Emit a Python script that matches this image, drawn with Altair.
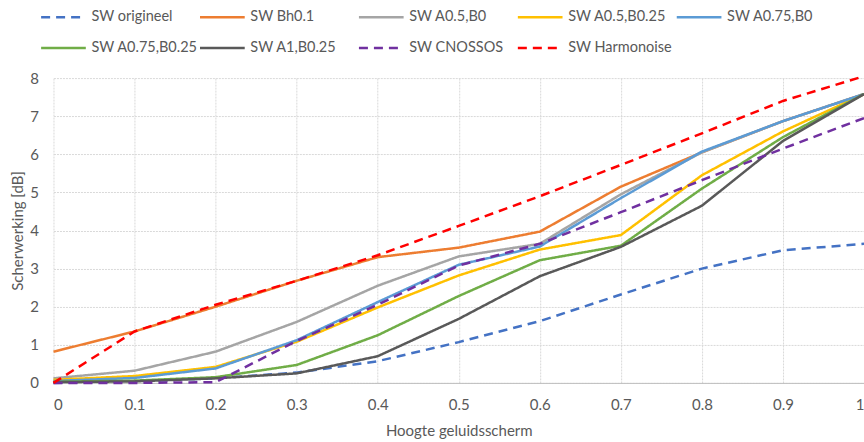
import altair as alt
import pandas as pd

# Schermhoogte (x-as)
hoogte = [0.0, 0.1, 0.2, 0.3, 0.4, 0.5, 0.6, 0.7, 0.8, 0.9, 1.0]

# Scherwerking [dB] per variant
sw_origineel = [0.0, 0.04, 0.12, 0.27, 0.57, 1.07, 1.62, 2.32, 3.00, 3.48, 3.65]
sw_bh01 = [0.82, 1.35, 2.00, 2.68, 3.30, 3.55, 3.97, 5.15, 6.05, 6.87, 7.58]
sw_a05_b0 = [0.12, 0.32, 0.82, 1.60, 2.55, 3.32, 3.65, 4.95, 6.05, 6.87, 7.58]
sw_a05_b025 = [0.08, 0.18, 0.42, 1.08, 1.98, 2.82, 3.50, 3.88, 5.45, 6.60, 7.58]
sw_a075_b0 = [0.05, 0.13, 0.38, 1.12, 2.12, 3.10, 3.58, 4.85, 6.07, 6.87, 7.58]
sw_a075_b025 = [0.03, 0.06, 0.15, 0.47, 1.25, 2.28, 3.22, 3.60, 5.10, 6.45, 7.58]
sw_a1_b025 = [0.02, 0.04, 0.12, 0.25, 0.70, 1.68, 2.80, 3.57, 4.65, 6.35, 7.58]
sw_cnossos = [0.0, 0.0, 0.02, 1.10, 2.05, 3.08, 3.65, 4.48, 5.32, 6.15, 6.95]
sw_harmonoise = [0.0, 1.35, 2.05, 2.68, 3.35, 4.12, 4.90, 5.72, 6.55, 7.40, 8.05]

namen = [
    "SW origineel", "SW Bh0.1", "SW A0.5,B0", "SW A0.5,B0.25", "SW A0.75,B0",
    "SW A0.75,B0.25", "SW A1,B0.25", "SW CNOSSOS", "SW Harmonoise",
]
reeksen = [
    sw_origineel, sw_bh01, sw_a05_b0, sw_a05_b025, sw_a075_b0,
    sw_a075_b025, sw_a1_b025, sw_cnossos, sw_harmonoise,
]
kleuren = [
    "#4472C4", "#ED7D31", "#A5A5A5", "#FFC000", "#5B9BD5",
    "#70AD47", "#595959", "#7030A0", "#FF0000",
]
streep = [[9, 6], [1, 0], [1, 0], [1, 0], [1, 0], [1, 0], [1, 0], [9, 6], [9, 6]]

rows = []
for naam, waarden in zip(namen, reeksen):
    for x, y in zip(hoogte, waarden):
        rows.append({"hoogte": x, "sw": y, "reeks": naam})
df = pd.DataFrame(rows)

FONT = "Lato"
GRIJS = "#595959"

legend_cfg = dict(
    orient="none",
    legendX=-14,
    legendY=-85,
    direction="horizontal",
    columns=5,
    gridAlign="all",
    columnPadding=-9,
    rowPadding=-8,
    symbolType="stroke",
    symbolSize=2000,
    symbolStrokeWidth=2.5,
    labelFont=FONT,
    labelFontSize=14.5,
    labelColor=GRIJS,
    labelOffset=4,
    labelLimit=200,
    padding=0,
    title=None,
)

chart = (
    alt.Chart(df)
    .mark_line(strokeWidth=2.5, clip=False)
    .encode(
        x=alt.X(
            "hoogte:Q",
            scale=alt.Scale(domain=[0, 1], nice=False, zero=True),
            axis=alt.Axis(
                title="Hoogte geluidsscherm",
                values=hoogte,
                format="~g",
                grid=True,
                ticks=False,
                labelPadding=15,
                titlePadding=11,
                domainColor="#BFBFBF",
            ),
        ),
        y=alt.Y(
            "sw:Q",
            scale=alt.Scale(domain=[0, 8], nice=False),
            axis=alt.Axis(
                title="Scherwerking [dB]",
                values=list(range(0, 9)),
                ticks=False,
                domain=False,
                labelPadding=15,
                titlePadding=4,
            ),
        ),
        color=alt.Color(
            "reeks:N",
            scale=alt.Scale(domain=namen, range=kleuren),
            legend=alt.Legend(**legend_cfg),
        ),
        strokeDash=alt.StrokeDash(
            "reeks:N",
            scale=alt.Scale(domain=namen, range=streep),
            legend=alt.Legend(**legend_cfg),
        ),
        order=alt.Order("hoogte:Q"),
    )
    .properties(
        width=811,
        height=305,
        background="white",
        autosize=alt.AutoSizeParams(type="none"),
        padding={"left": 53.5, "top": 78, "right": 0, "bottom": 59},
    )
    .configure_view(stroke=None)
    .configure_axis(
        labelFont=FONT,
        titleFont=FONT,
        labelFontSize=15,
        titleFontSize=15,
        labelColor=GRIJS,
        titleColor=GRIJS,
        titleFontWeight="normal",
        gridColor="#D9D9D9",
        gridDash=[2, 1],
        gridWidth=1,
    )
)

chart.save("out.html", embed_options={"renderer": "svg", "actions": False})
